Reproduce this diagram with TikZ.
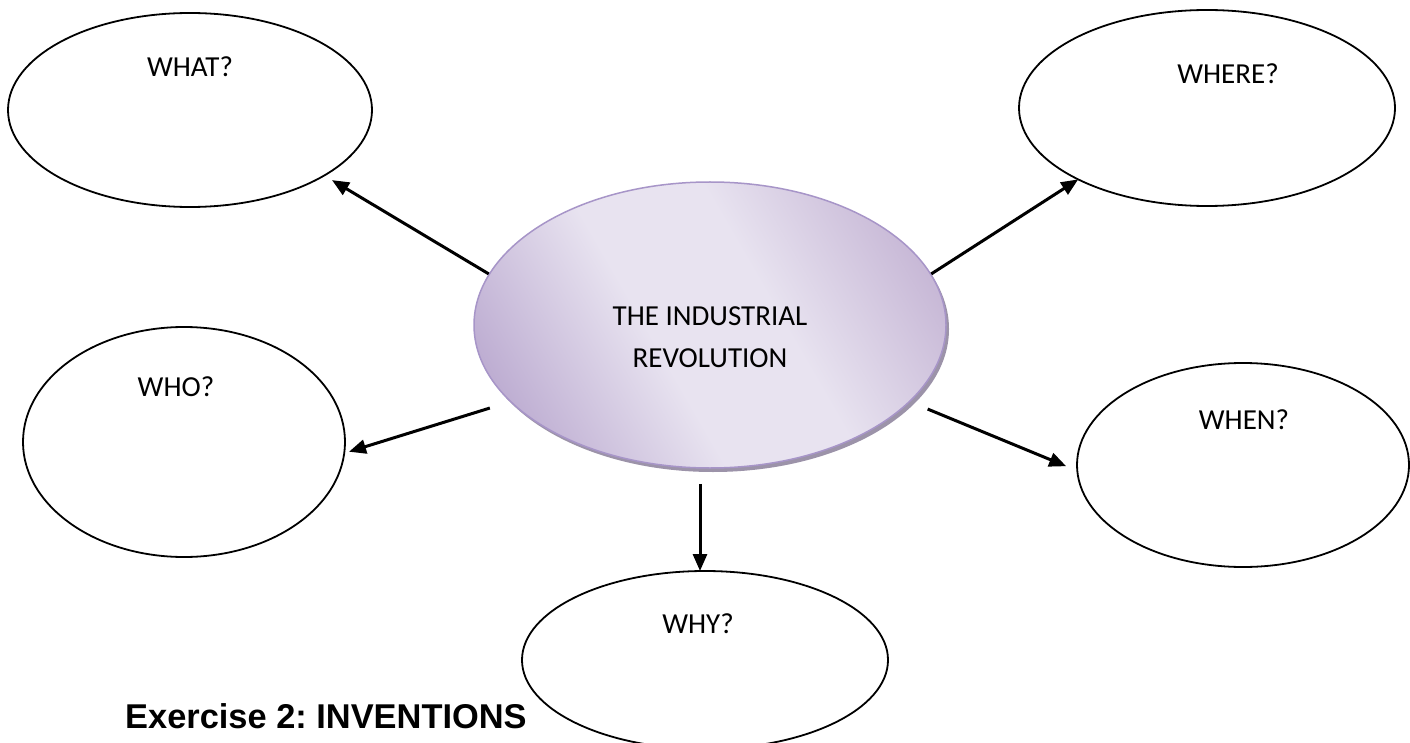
\documentclass[tikz,border=0pt]{standalone}
\usepackage{fontspec}
\setmainfont{Carlito}
\newfontfamily\headfont{Liberation Sans}
\usetikzlibrary{arrows.meta,shapes.geometric}
\definecolor{purA}{HTML}{BBAAD0}
\definecolor{purB}{HTML}{E8E3F0}
\definecolor{purC}{HTML}{C2B1D2}
\definecolor{purEdge}{HTML}{A795C8}
\definecolor{shadowc}{HTML}{9C93A9}
\pgfdeclarehorizontalshading{revshade}{100bp}{color(0bp)=(purA); color(22bp)=(purA); color(43bp)=(purB); color(58bp)=(purB); color(80bp)=(purC); color(100bp)=(purC)}
\begin{document}
\begin{tikzpicture}[x=1pt,y=-1pt,
  bub/.style={draw=black,line width=1.8pt,ellipse,inner sep=0pt,outer sep=0pt},
  lab/.style={anchor=base,inner sep=0pt,font=\fontsize{29}{35}\selectfont},
  arr/.style={line width=3pt,-{Triangle[length=17pt,width=14pt]}}]
\fill[white] (0,0) rectangle (1410,743);
\useasboundingbox (0,0) rectangle (1410,743);

% outer bubbles
\node[bub,minimum width=364pt,minimum height=194pt] (what) at (190,110) {};
\node[bub,minimum width=376pt,minimum height=196pt] (where) at (1207,108) {};
\node[bub,minimum width=322pt,minimum height=230pt] (who) at (184,442) {};
\node[bub,minimum width=332pt,minimum height=204pt] (when) at (1243,465) {};
\node[bub,minimum width=366pt,minimum height=178pt] (why) at (705,660) {};

\node[lab] (whatl) at (190,77) {WHAT?};
\node[lab] (wherel) at (1228,84) {WHERE?};
\node[lab] (whol) at (176,396) {WHO?};
\node[lab] (whenl) at (1244,429) {WHEN?};
\node[lab] (whyl) at (698,633) {WHY?};

% central bubble
\node[ellipse,fill=shadowc,inner sep=0pt,minimum width=472pt,minimum height=286pt] (cs) at (713,329) {};
\node[ellipse,draw=purEdge,line width=1.5pt,shading=revshade,shading angle=30,inner sep=0pt,minimum width=472pt,minimum height=286pt] (c) at (710,325) {};
\node[lab] (t1) at (710,325) {THE INDUSTRIAL};
\node[lab] (t2) at (710,367) {REVOLUTION};

% connectors
\draw[arr,shorten >=9pt] (c.167) -- (what.-26);
\draw[arr] (c.13) -- (where.209);
\draw[arr,shorten <=21pt,shorten >=5pt] (c.201) -- (who.-4);
\draw[arr,shorten <=19pt,shorten >=12pt] (c.-21) -- (when.182);
\draw[arr] ([xshift=-10pt,yshift=-15pt]c.south) coordinate (ys) -- (ys |- why.north);

% heading
\node[anchor=base west,inner sep=0pt,font=\headfont\bfseries\fontsize{34.4}{40}\selectfont] (ex) at (125,728) {\frenchspacing Exercise 2: INVENTIONS};
\end{tikzpicture}
\end{document}
